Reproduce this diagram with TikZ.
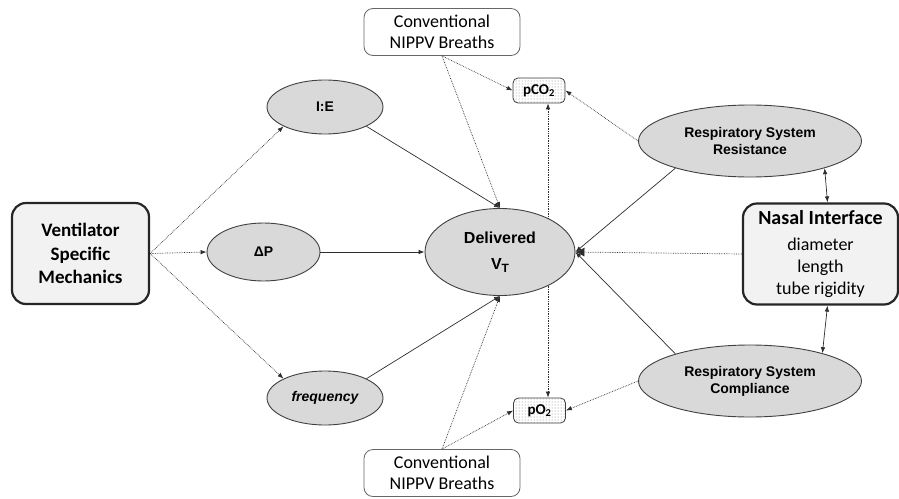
\documentclass[tikz,border=0pt]{standalone}
\usepackage{fontspec}
\setmainfont{Carlito}
\newfontfamily\ArialFont{Liberation Sans}
\definecolor{EdgeGray}{RGB}{64,64,64}
\definecolor{OvalFill}{RGB}{217,217,217}
\definecolor{BoxFill}{RGB}{242,242,242}
\definecolor{LineGray}{RGB}{45,45,45}
\usetikzlibrary{arrows.meta, shapes.geometric, patterns, calc}

\begin{document}
\begin{tikzpicture}[x=1pt, y=-1pt,
    oval/.style={ellipse, draw=EdgeGray, line width=0.9pt, fill=OvalFill, inner sep=0pt, align=center,
      font=\ArialFont\bfseries\fontsize{14}{17}\selectfont},
    bigbox/.style={rectangle, rounded corners=14pt, draw=black!85, line width=2.2pt, fill=BoxFill,
      align=center, inner sep=0pt},
    breathbox/.style={rectangle, rounded corners=9pt, draw=black!60, line width=0.8pt, fill=white,
      align=center, minimum width=156pt, minimum height=47pt, inner sep=0pt,
      font=\fontsize{18}{21}\selectfont},
    gasbox/.style={rectangle, rounded corners=5pt, draw=black!75, line width=0.8pt, preaction={fill=white},
      pattern=dots, pattern color=black!50, minimum width=52pt, minimum height=25pt, inner sep=0pt,
      font=\bfseries\fontsize{15}{15}\selectfont},
    solidarrow/.style={draw=LineGray, line width=0.7pt, -{Latex[length=6pt,width=4.5pt]}},
    dotarrow/.style={solidarrow, densely dotted},
    twoway/.style={draw=LineGray, line width=0.7pt, {Latex[length=6pt,width=4.5pt]}-{Latex[length=6pt,width=4.5pt]}}
  ]
  \useasboundingbox (0,0) rectangle (899,498);

  % boxes
  \node[bigbox, minimum width=137pt, minimum height=101pt, font=\bfseries\fontsize{19}{23.5}\selectfont]
    (vent) at (80.5,253.5) {Ventilator\\Specific\\Mechanics};
  \node[bigbox, minimum width=155pt, minimum height=101pt, font=\fontsize{18}{22}\selectfont]
    (nasal) at (820.5,254) {{\bfseries\fontsize{20}{22}\selectfont Nasal Interface}\\[4pt]diameter\\length\\tube rigidity};
  \node[breathbox] (topbreaths) at (442,32) {Conventional\\NIPPV Breaths};
  \node[breathbox] (botbreaths) at (442,473) {Conventional\\NIPPV Breaths};
  \node[gasbox] (pco2) at (539,90.5) {pCO\textsubscript{2}};
  \node[gasbox] (po2) at (539.5,410.5) {pO\textsubscript{2}};

  % ovals
  \node[oval, minimum width=116pt, minimum height=54pt] (ie) at (325,107) {I:E};
  \node[oval, minimum width=113pt, minimum height=58pt] (dp) at (263.5,252) {ΔP};
  \node[oval, minimum width=116pt, minimum height=54pt, font=\ArialFont\bfseries\itshape\fontsize{14}{17}\selectfont]
    (freq) at (325,398) {frequency};
  \node[oval, minimum width=150pt, minimum height=87pt, font=\ArialFont\bfseries\fontsize{16}{26}\selectfont]
    (vt) at (500,252) {Delivered\\V\raisebox{-0.35ex}{\fontsize{12}{12}\selectfont T}};
  \node[oval, minimum width=223pt, minimum height=72pt] (res) at (750,141) {Respiratory System\\Resistance};
  \node[oval, minimum width=223pt, minimum height=72pt] (comp) at (750,381) {Respiratory System\\Compliance};

  \coordinate (vtup) at ($(vt.center)+(48,-33.5)$);
  \coordinate (vtdown) at ($(vt.center)+(48,33.5)$);

  % ventilator settings
  \draw[dotarrow] (vent.east) -- (ie.205);
  \draw[dotarrow] (vent.east) -- (dp.west);
  \draw[dotarrow] (vent.east) -- (freq.155);

  % into delivered VT
  \draw[solidarrow] (ie.-25) -- (vt.north);
  \draw[solidarrow] (dp.east) -- (vt.west);
  \draw[solidarrow] (freq.25) -- (vt.south);
  \draw[dotarrow] (topbreaths.south) -- (vt.north);
  \draw[dotarrow] (botbreaths.north) -- (vt.south);
  \draw[dotarrow] (topbreaths.south) -- (pco2.west);
  \draw[dotarrow] (botbreaths.north) -- (po2.west);
  \draw[dotarrow] (vtup) -- (vtup |- pco2.south);
  \draw[dotarrow] (vtdown) -- (vtdown |- po2.north);

  % right side
  \draw[dotarrow] (res.west) -- (pco2.east);
  \draw[dotarrow] (comp.west) -- (po2.east);
  \draw[solidarrow] (res.200) -- (vt.east);
  \draw[solidarrow] (comp.160) -- (vt.east);
  \draw[dotarrow, -{Latex[length=9pt,width=9pt]}] (nasal.west) -- (vt.east);
  \draw[twoway] (res.-20) -- ([xshift=7pt]nasal.north);
  \draw[twoway] ([xshift=7pt]nasal.south) -- (comp.21);
\end{tikzpicture}
\end{document}
